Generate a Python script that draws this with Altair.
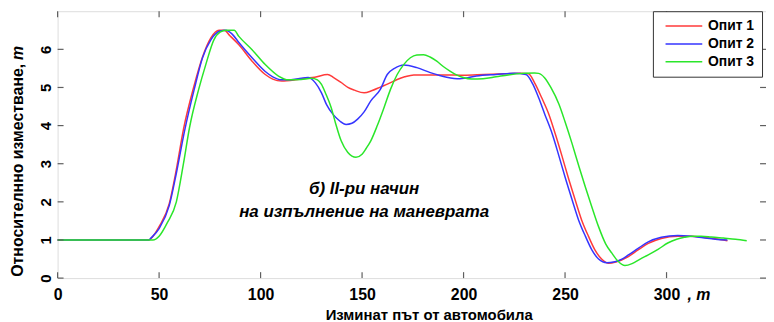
import altair as alt
import pandas as pd

series_names = ["Опит 1", "Опит 2", "Опит 3"]
series_colors = ["#ff3a3a", "#3535ff", "#2ae62a"]

red_x = [0, 45, 47, 50, 55, 58.5, 62, 67, 71.4, 75.5, 79.5, 82, 85, 89.3, 95.8, 102.3, 106, 110.4, 117, 122,
         126.7, 133, 136, 139.7, 143, 146.2, 151, 155, 159, 163, 167.3, 171, 175.5, 183, 191.7, 200, 210, 220,
         228, 232, 235, 238.5, 242, 245.2, 248.5, 251.5, 255, 258.2, 261.5, 264.7, 268, 271.5, 275, 281, 286,
         291, 297.4, 305.5, 312, 318, 324, 330]
red_y = [1.0, 1.0, 1.1, 1.35, 1.95, 2.85, 3.9, 5.0, 5.8, 6.3, 6.5, 6.5, 6.35, 6.12, 5.69, 5.34, 5.22, 5.17, 5.2, 5.24,
         5.27, 5.34, 5.26, 5.13, 5.0, 4.93, 4.86, 4.92, 5.01, 5.1, 5.21, 5.28, 5.33, 5.33, 5.33, 5.32, 5.34, 5.36,
         5.37, 5.36, 5.12, 4.73, 4.3, 3.78, 3.2, 2.65, 2.05, 1.52, 1.1, 0.74, 0.5, 0.39, 0.42, 0.56, 0.74,
         0.91, 1.04, 1.1, 1.1, 1.07, 1.03, 0.98]

blue_x = [0, 45, 46, 50, 55, 58.5, 62.5, 67.3, 71.4, 75.5, 80, 82.8, 86, 89.3, 95.8, 102.3, 106, 110.4, 113.7,
          118.5, 123.4, 127, 130, 132.5, 135.6, 139, 142.1, 145, 147.8, 151, 154.3, 159, 162.4, 166, 170.6, 177,
          183.6, 191.7, 198.2, 206.3, 216, 225, 230.7, 234, 237, 240, 243.7, 247, 250, 253.5, 256.7, 260, 263.2,
          266.5, 270.6, 274, 278, 281, 286, 291, 297.4, 305.5, 312, 318, 324, 330]
blue_y = [1.0, 1.0, 1.05, 1.3, 1.9, 2.75, 3.85, 4.95, 5.78, 6.25, 6.48, 6.5, 6.4, 6.18, 5.78, 5.42, 5.28, 5.2, 5.2,
          5.23, 5.26, 5.12, 4.86, 4.55, 4.3, 4.12, 4.03, 4.06, 4.17, 4.36, 4.65, 4.95, 5.34, 5.5, 5.59, 5.52,
          5.39, 5.27, 5.23, 5.3, 5.34, 5.37, 5.34, 5.1, 4.73, 4.3, 3.78, 3.2, 2.65, 2.05, 1.52, 1.1, 0.74,
          0.5, 0.4, 0.42, 0.5, 0.6, 0.78, 0.95, 1.07, 1.12, 1.1, 1.06, 1.02, 1.0]

green_x = [0, 47, 50, 54, 58.5, 62, 65, 69.5, 73, 77, 80, 83, 87, 89.3, 95.8, 102.3, 108.8, 113.7, 120, 125, 128,
           130, 132, 134.8, 137, 139.7, 142.9, 145, 147, 150, 152, 154.3, 157.5, 160.8, 164, 167.3, 170.5, 173.8,
           177, 180.3, 183.5, 186.8, 190, 193.3, 196.5, 199.8, 204, 209.6, 216, 222, 230, 235, 237, 240, 243,
           247, 250, 253.5, 257, 260, 263, 266.5, 270, 273, 276, 279.5, 283, 287, 291, 296, 300.6, 305, 308.8,
           313, 317, 322, 328, 334, 339.5]
green_y = [1.0, 1.0, 1.1, 1.45, 2.0, 3.0, 3.95, 4.95, 5.6, 6.25, 6.45, 6.5, 6.5, 6.34, 5.99, 5.6, 5.3, 5.2, 5.21, 5.24,
           5.2, 5.08, 4.85, 4.47, 4.05, 3.6, 3.3, 3.2, 3.17, 3.25, 3.4, 3.6, 4.0, 4.47, 4.95, 5.34, 5.6, 5.78,
           5.85, 5.86, 5.8, 5.69, 5.55, 5.43, 5.33, 5.26, 5.22, 5.23, 5.28, 5.33, 5.37, 5.38, 5.37, 5.25, 5.0,
           4.56, 4.1, 3.52, 2.9, 2.39, 1.9, 1.35, 0.9, 0.66, 0.45, 0.33, 0.38, 0.5, 0.61, 0.76, 0.92, 1.02, 1.07,
           1.1, 1.1, 1.08, 1.05, 1.02, 0.98]

x_ticks = [0, 50, 100, 150, 200, 250, 300]
y_ticks = [0, 1, 2, 3, 4, 5, 6]

x_title = "Изминат път от автомобила"
y_title = "Относителнно изместване,"
unit = "m"
note_lines = ["б) II-ри начин", "на изпълнение на маневрата"]
note_y = [2.34, 1.74]

rows = []
for name, xs, ys in zip(series_names, [red_x, blue_x, green_x], [red_y, blue_y, green_y]):
    for i, (a, b) in enumerate(zip(xs, ys)):
        rows.append({"series": name, "x": a, "y": b, "i": i})
df = pd.DataFrame(rows)

W, H = 714, 269
FONT = "Liberation Sans"
FRAME = "#5f5f5f"

xscale = alt.Scale(domain=[0, 349], nice=False, zero=False)
yscale = alt.Scale(domain=[0, 7], nice=False)

x_axis = alt.Axis(
    values=x_ticks, ticks=False, domain=False, grid=False, labelFlush=False, labelOverlap=False,
    labelFont=FONT, labelFontSize=16, labelFontWeight="bold", labelColor="black", labelPadding=9,
    title=x_title, titleFont=FONT, titleFontSize=15, titleFontWeight="bold", titleColor="black",
    titleX=374, titleY=42, titleBaseline="alphabetic", titleAlign="center")
y_axis = alt.Axis(
    values=y_ticks, ticks=False, domain=False, grid=False, labelAngle=270, labelAlign="center",
    labelBaseline="bottom", labelPadding=4, labelFont=FONT, labelFontSize=15, labelFontWeight="bold",
    labelColor="black", title=None)

lines = alt.Chart(df).mark_line(strokeWidth=1.5, interpolate="monotone").encode(
    x=alt.X("x:Q", scale=xscale, axis=x_axis),
    y=alt.Y("y:Q", scale=yscale, axis=y_axis),
    color=alt.Color("series:N", scale=alt.Scale(domain=series_names, range=series_colors),
                    legend=alt.Legend(title=None, orient="none", legendX=600, legendY=0, direction="vertical",
                                      symbolType="M-0.9,0H13.9", symbolSize=25, symbolStrokeWidth=1.5,
                                      labelFont=FONT, labelFontSize=14, labelFontWeight="bold",
                                      labelColor="black", labelOffset=33.5, padding=8, rowPadding=4,
                                      strokeColor="#333333", fillColor="white",
                                      labelExpr="datum.label + '          '")),
    order="i:Q",
)

xt = pd.DataFrame({"x": x_ticks})
yt = pd.DataFrame({"y": y_ticks})
tick_style = dict(color=FRAME, strokeWidth=1.2)
bottom_ticks = alt.Chart(xt).mark_rule(**tick_style).encode(
    x=alt.X("x:Q", scale=xscale, axis=x_axis), y=alt.value(H), y2=alt.value(H - 6))
top_ticks = alt.Chart(xt).mark_rule(**tick_style).encode(
    x=alt.X("x:Q", scale=xscale, axis=x_axis), y=alt.value(0), y2=alt.value(6))
left_ticks = alt.Chart(yt).mark_rule(**tick_style).encode(
    y=alt.Y("y:Q", scale=yscale, axis=y_axis), x=alt.value(0), x2=alt.value(6))
right_ticks = alt.Chart(yt).mark_rule(**tick_style).encode(
    y=alt.Y("y:Q", scale=yscale, axis=y_axis), x=alt.value(W - 6), x2=alt.value(W))

unit_x = alt.Chart(pd.DataFrame({"x": [300], "t": [", " + unit]})).mark_text(
    font=FONT, fontSize=16, fontWeight="bold", fontStyle="italic", align="left", baseline="top", dx=21
).encode(x=alt.X("x:Q", scale=xscale, axis=x_axis), y=alt.value(H + 9), text="t:N")

ytitle = alt.Chart(pd.DataFrame({"t": [y_title]})).mark_text(
    font=FONT, fontSize=16, fontWeight="bold", angle=270, align="right", baseline="middle"
).encode(x=alt.value(-39.5), y=alt.value(53), text="t:N")
yunit = alt.Chart(pd.DataFrame({"t": [unit]})).mark_text(
    font=FONT, fontSize=16, fontWeight="bold", fontStyle="italic", angle=270, align="right", baseline="middle"
).encode(x=alt.value(-39.5), y=alt.value(35), text="t:N")

note = alt.Chart(pd.DataFrame({"x": [151, 151], "y": note_y, "t": note_lines})).mark_text(
    font=FONT, fontSize=17, fontWeight="bold", fontStyle="italic", align="center", baseline="middle"
).encode(x=alt.X("x:Q", scale=xscale, axis=x_axis), y=alt.Y("y:Q", scale=yscale, axis=y_axis), text="t:N")

chart = alt.layer(
    lines, bottom_ticks, top_ticks, left_ticks, right_ticks, unit_x, ytitle, yunit, note
).properties(
    width=W, height=H,
    autosize=alt.AutoSizeParams(type="none"),
    padding={"left": 50, "top": 2, "right": 0, "bottom": 43},
).configure_view(stroke=FRAME, strokeWidth=1.5).configure(background="white")

chart.save("out.html", embed_options={"renderer": "svg", "actions": False})
